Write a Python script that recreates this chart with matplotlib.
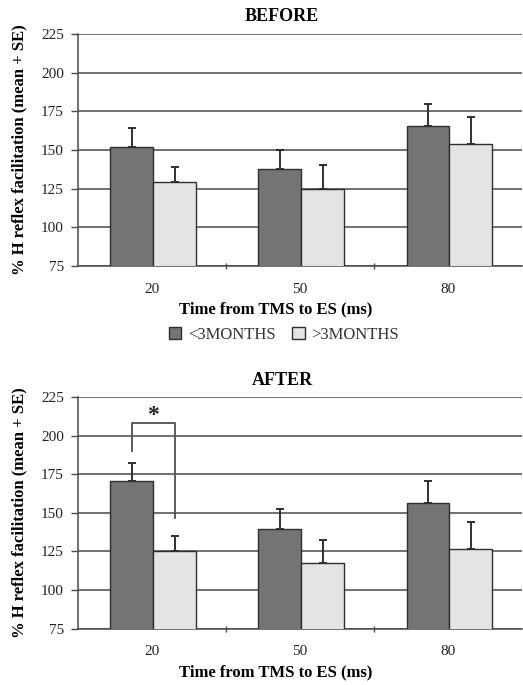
import matplotlib
matplotlib.use("Agg")
import matplotlib.pyplot as plt
from matplotlib.patches import Patch
import numpy as np

# Data
categories = ["20", "50", "80"]
series_names = ["<3MONTHS", ">3MONTHS"]

before_lt3 = [152, 138, 165.5]
before_lt3_se = [12, 12, 14]
before_gt3 = [129.5, 125, 154]
before_gt3_se = [9.5, 15.5, 17]

after_lt3 = [170.5, 139.5, 156.5]
after_lt3_se = [11.5, 13, 14]
after_gt3 = [125, 117.5, 126.5]
after_gt3_se = [10, 15, 17.5]

yticks = [75, 100, 125, 150, 175, 200, 225]

# Significance bracket for the 20 ms comparison in the AFTER panel
bracket_left_y = [190, 208]
bracket_right_y = [208, 146.5]
star_y = 213

plt.rcParams["font.family"] = ["Liberation Serif", "DejaVu Serif"]

DARK = "#747474"
LIGHT = "#e4e4e4"
EDGE = "#2e2e2e"
GRID = "#4a4a4a"

fig = plt.figure(figsize=(5.23, 6.85), dpi=100)
ax_top = fig.add_axes([0.149, 0.6117, 0.849, 0.3387])
ax_bot = fig.add_axes([0.149, 0.0822, 0.849, 0.3382])

x = np.arange(len(categories))
w = 0.29
off_dark = -0.135
off_light = 0.155


def draw_panel(ax, lt3, lt3_se, gt3, gt3_se, title):
    ax.set_axisbelow(True)
    ax.bar(x + off_dark, lt3, width=w, bottom=0, color=DARK,
           edgecolor=EDGE, linewidth=1.0, zorder=3)
    ax.bar(x + off_light, gt3, width=w, bottom=0, color=LIGHT,
           edgecolor=EDGE, linewidth=1.0, zorder=3)
    # upper-only error bars (mean + SE)
    ax.errorbar(x + off_dark, lt3, yerr=[np.zeros(3), lt3_se], fmt="none",
                ecolor="#303030", elinewidth=1.4, capsize=3, capthick=1.4, zorder=4)
    ax.errorbar(x + off_light, gt3, yerr=[np.zeros(3), gt3_se], fmt="none",
                ecolor="#303030", elinewidth=1.4, capsize=3, capthick=1.4, zorder=4)

    ax.set_xlim(-0.5, 2.5)
    ax.set_ylim(75, 225)
    ax.set_yticks(yticks)
    ax.set_yticklabels([str(t) for t in yticks], fontsize=11, color="#222222")
    ax.yaxis.grid(True, color=GRID, linewidth=1.1)
    ax.tick_params(axis="y", length=5, width=1, color=GRID, pad=5)

    ax.set_xticks(x)
    ax.set_xticklabels(categories, fontsize=11, color="#222222")
    ax.tick_params(axis="x", which="major", length=0, pad=12)
    ax.set_xticks([0.5, 1.5], minor=True)
    ax.tick_params(axis="x", which="minor", length=4, width=1, color=GRID,
                   direction="inout")

    for s in ["top", "right"]:
        ax.spines[s].set_visible(False)
    for s in ["left", "bottom"]:
        ax.spines[s].set_color(GRID)
        ax.spines[s].set_linewidth(1.1)

    ax.set_title(title, fontsize=13, fontweight="bold", pad=9, x=0.46)
    ax.set_xlabel("Time from TMS to ES (ms)", fontsize=12, fontweight="bold",
                  labelpad=4)
    ax.xaxis.label.set_x(0.446)
    ax.set_ylabel("% H reflex facilitation (mean + SE)", fontsize=12,
                  fontweight="bold", labelpad=10)


draw_panel(ax_top, before_lt3, before_lt3_se, before_gt3, before_gt3_se, "BEFORE")
draw_panel(ax_bot, after_lt3, after_lt3_se, after_gt3, after_gt3_se, "AFTER")

# significance bracket and star
xl = x[0] + off_dark
xr = x[0] + off_light
ax_bot.plot([xl, xl, xr, xr],
            [bracket_left_y[0], bracket_left_y[1], bracket_right_y[0], bracket_right_y[1]],
            color="#505050", linewidth=1.3, zorder=5, clip_on=False)
ax_bot.text((xl + xr) / 2, star_y, "*", ha="center", va="center",
            fontsize=17, fontweight="bold", color="#222222", zorder=5)

handles = [Patch(facecolor=DARK, edgecolor=EDGE, linewidth=1.0),
           Patch(facecolor=LIGHT, edgecolor=EDGE, linewidth=1.0)]
fig.legend(handles, series_names, loc="center", bbox_to_anchor=(0.543, 0.511),
           ncol=2, frameon=False, fontsize=12, handlelength=0.75, handleheight=0.75,
           handletextpad=0.4, columnspacing=1.0, labelcolor="#333333")

fig.savefig("out.png", dpi=100, facecolor="white")
